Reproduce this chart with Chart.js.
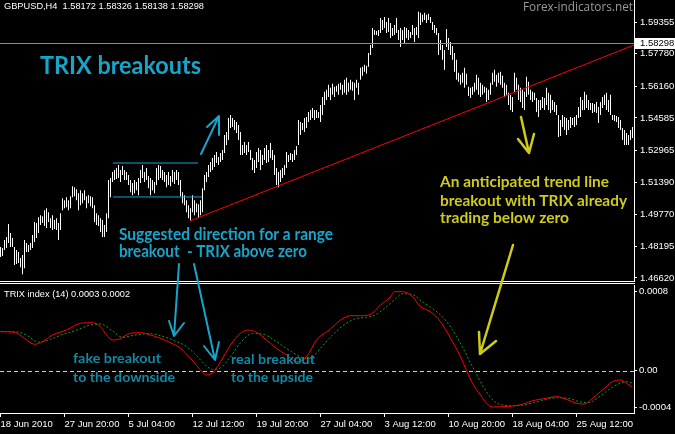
<!DOCTYPE html>
<html>
<head>
<meta charset="utf-8">
<script src="https://cdn.jsdelivr.net/npm/chart.js@4.4.1/dist/chart.umd.min.js"></script>
<style>
html, body { margin: 0; padding: 0; background: #000; }
#wrap { position: relative; width: 675px; height: 434px; overflow: hidden; background: #000; }
#main { position: absolute; left: 0; top: 0; }
#trix { position: absolute; left: 0; top: 284px; }
#over { position: absolute; left: 0; top: 0; pointer-events: none; }
.sep { position: absolute; left: 0; width: 635px; height: 1px; background: #fff; }
</style>
</head>
<body>
<div id="wrap">
  <canvas id="main" width="675" height="281"></canvas>
  <div class="sep" style="top:281px"></div>
  <div class="sep" style="top:283px"></div>
  <canvas id="trix" width="675" height="150"></canvas>
  <canvas id="over" width="675" height="434"></canvas>
</div>
<script>
// GBPUSD H4 bars, high / low per bar (oldest first)
const barHigh = [
  1.4816,1.4811,1.4851,1.4866,1.4931,1.4886,1.4861,1.4816,1.4801,1.4791,
  1.4761,1.4776,1.4851,1.4836,1.4826,1.4836,1.4876,1.4941,1.4936,1.4964,
  1.4974,1.4969,1.4999,1.5009,1.4989,1.4959,1.4974,1.4951,1.4959,1.4936,
  1.4984,1.5059,1.5049,1.5064,1.5049,1.5069,1.5119,1.5114,1.5104,1.5084,
  1.5099,1.5084,1.5099,1.5069,1.5074,1.5069,1.5064,1.5024,1.4984,1.4974,
  1.4959,1.4951,1.4926,1.4984,1.5149,1.5159,1.5189,1.5199,1.5209,1.5224,
  1.5199,1.5219,1.5199,1.5189,1.5174,1.5149,1.5134,1.5149,1.5139,1.5159,
  1.5199,1.5224,1.5189,1.5209,1.5169,1.5159,1.5149,1.5139,1.5209,1.5224,
  1.5219,1.5199,1.5189,1.5174,1.5189,1.5169,1.5199,1.5189,1.5199,1.5189,
  1.5149,1.5089,1.5074,1.5049,1.5024,1.5009,1.5074,1.5049,1.5034,1.5029,
  1.5049,1.5109,1.5174,1.5189,1.5224,1.5239,1.5259,1.5274,1.5289,1.5264,
  1.5284,1.5299,1.5373,1.5388,1.5458,1.5473,1.5458,1.5448,1.5438,1.5423,
  1.5388,1.5324,1.5339,1.5324,1.5339,1.5299,1.5259,1.5249,1.5289,1.5309,
  1.5299,1.5274,1.5309,1.5324,1.5299,1.5334,1.5299,1.5274,1.5209,1.5189,
  1.5199,1.5209,1.5224,1.5289,1.5274,1.5284,1.5279,1.5299,1.5319,1.5448,
  1.5438,1.5433,1.5458,1.5463,1.5488,1.5498,1.5508,1.5498,1.5498,1.5488,
  1.5523,1.5563,1.5588,1.5598,1.5623,1.5608,1.5628,1.5613,1.5618,1.5628,
  1.5633,1.5623,1.5648,1.5658,1.5633,1.5648,1.5638,1.5633,1.5648,1.5633,
  1.5708,1.5713,1.5723,1.5718,1.5781,1.5821,1.5906,1.5896,1.5891,1.5896,
  1.5956,1.5946,1.5961,1.5936,1.5956,1.5931,1.5906,1.5921,1.5956,1.5896,
  1.5906,1.5896,1.5911,1.5906,1.5896,1.5886,1.5921,1.5906,1.5911,1.5986,
  1.5981,1.5971,1.5981,1.5971,1.5976,1.5961,1.5936,1.5921,1.5906,1.5881,
  1.5846,1.5821,1.5796,1.5901,1.5856,1.5836,1.5816,1.5781,1.5748,1.5683,
  1.5673,1.5683,1.5708,1.5678,1.5613,1.5608,1.5613,1.5633,1.5673,1.5658,
  1.5633,1.5623,1.5613,1.5608,1.5598,1.5633,1.5683,1.5698,1.5673,1.5683,
  1.5688,1.5668,1.5633,1.5623,1.5583,1.5573,1.5563,1.5683,1.5658,1.5623,
  1.5608,1.5598,1.5588,1.5663,1.5638,1.5598,1.5588,1.5583,1.5558,1.5548,
  1.5548,1.5563,1.5558,1.5608,1.5583,1.5573,1.5548,1.5538,1.5523,1.5473,
  1.5448,1.5473,1.5463,1.5458,1.5448,1.5463,1.5458,1.5463,1.5473,1.5513,
  1.5563,1.5548,1.5588,1.5573,1.5548,1.5533,1.5533,1.5528,1.5538,1.5513,
  1.5538,1.5563,1.5573,1.5583,1.5548,1.5573,1.5473,1.5473,1.5468,1.5463,
  1.5448,1.5408,1.5398,1.5383,1.5373,1.5398,1.5413
];
const barLow = [
  1.4766,1.4771,1.4801,1.4811,1.4836,1.4816,1.4816,1.4726,1.4731,1.4736,
  1.4716,1.4681,1.4711,1.4791,1.4791,1.4801,1.4811,1.4841,1.4861,1.4886,
  1.4926,1.4936,1.4921,1.4911,1.4941,1.4911,1.4901,1.4906,1.4901,1.4851,
  1.4901,1.4999,1.5009,1.5014,1.4999,1.5009,1.5064,1.5069,1.5049,1.4999,
  1.5024,1.5034,1.5049,1.5009,1.5034,1.5019,1.5009,1.4941,1.4926,1.4921,
  1.4891,1.4866,1.4866,1.4891,1.4959,1.5064,1.5139,1.5149,1.5154,1.5159,
  1.5139,1.5174,1.5149,1.5149,1.5124,1.5089,1.5074,1.5084,1.5099,1.5074,
  1.5134,1.5159,1.5139,1.5149,1.5109,1.5074,1.5099,1.5084,1.5124,1.5149,
  1.5159,1.5149,1.5139,1.5114,1.5124,1.5119,1.5139,1.5129,1.5149,1.5124,
  1.5069,1.5034,1.5024,1.4989,1.4959,1.4946,1.4989,1.4974,1.4989,1.4959,
  1.4974,1.4989,1.5099,1.5139,1.5164,1.5189,1.5199,1.5214,1.5234,1.5224,
  1.5239,1.5249,1.5284,1.5324,1.5349,1.5408,1.5413,1.5398,1.5383,1.5349,
  1.5274,1.5274,1.5284,1.5274,1.5289,1.5249,1.5199,1.5184,1.5209,1.5239,
  1.5199,1.5224,1.5249,1.5234,1.5239,1.5259,1.5249,1.5174,1.5124,1.5114,
  1.5139,1.5159,1.5174,1.5209,1.5239,1.5249,1.5239,1.5249,1.5274,1.5324,
  1.5373,1.5398,1.5388,1.5408,1.5438,1.5448,1.5458,1.5448,1.5458,1.5458,
  1.5438,1.5473,1.5523,1.5548,1.5563,1.5548,1.5573,1.5563,1.5588,1.5573,
  1.5598,1.5573,1.5583,1.5573,1.5588,1.5598,1.5593,1.5548,1.5608,1.5573,
  1.5648,1.5668,1.5688,1.5678,1.5713,1.5771,1.5806,1.5871,1.5871,1.5866,
  1.5881,1.5896,1.5906,1.5881,1.5886,1.5856,1.5866,1.5871,1.5881,1.5846,
  1.5811,1.5846,1.5831,1.5856,1.5846,1.5856,1.5871,1.5836,1.5871,1.5856,
  1.5921,1.5936,1.5946,1.5931,1.5946,1.5931,1.5896,1.5881,1.5871,1.5771,
  1.5796,1.5748,1.5698,1.5811,1.5796,1.5771,1.5748,1.5688,1.5648,1.5638,
  1.5623,1.5633,1.5608,1.5623,1.5568,1.5558,1.5573,1.5588,1.5598,1.5573,
  1.5563,1.5573,1.5583,1.5538,1.5548,1.5573,1.5623,1.5638,1.5613,1.5633,
  1.5623,1.5608,1.5563,1.5573,1.5523,1.5498,1.5488,1.5588,1.5598,1.5548,
  1.5538,1.5508,1.5498,1.5563,1.5573,1.5548,1.5538,1.5548,1.5488,1.5463,
  1.5498,1.5508,1.5498,1.5523,1.5498,1.5483,1.5498,1.5488,1.5473,1.5363,
  1.5368,1.5413,1.5398,1.5373,1.5398,1.5408,1.5423,1.5413,1.5423,1.5458,
  1.5463,1.5498,1.5498,1.5508,1.5498,1.5498,1.5483,1.5488,1.5483,1.5433,
  1.5473,1.5508,1.5523,1.5498,1.5488,1.5473,1.5448,1.5443,1.5438,1.5408,
  1.5398,1.5349,1.5324,1.5324,1.5324,1.5349,1.5358
];
const priceTicks = [1.59355, 1.57780, 1.56160, 1.54585, 1.52965, 1.51390, 1.49770, 1.48195, 1.46620];
const currentPrice = 1.58298;

// chart objects drawn on the price window: [bar, price]
const trendLine = [[94.75, 1.4946], [316.75, 1.5821]];
const rangeTop = [[56.25, 1.5234], [98.75, 1.5234]];
const rangeBottom = [[56.25, 1.5065], [100.75, 1.5065]];

// TRIX(14) and its signal, sampled at bar numbers
const trixBars = [0,7,12,17,21,26,33,40,46,50,53,56,59,65,70,75,80,85,90,95,100,103,106,110,115,120,124,128,133,138,143,148,153,158,165,170,175,180,185,190,195,197,201,206,210,215,220,225,230,233,236,240,243,246,251,256,261,266,271,278,283,288,292,296,301,306,310,313,316];
const trixValues = [3.88e-4,3.82e-4,3.22e-4,2.62e-4,2.88e-4,3.55e-4,4.05e-4,4.72e-4,4.78e-4,4.38e-4,3.55e-4,3.05e-4,3.12e-4,3.72e-4,3.78e-4,3.55e-4,3.22e-4,2.78e-4,2.22e-4,1.22e-4,0.05e-4,-0.45e-4,-0.22e-4,0.88e-4,2.55e-4,3.72e-4,4.05e-4,3.82e-4,3.05e-4,2.22e-4,1.55e-4,0.88e-4,1.38e-4,3.05e-4,4.15e-4,5.05e-4,5.48e-4,5.48e-4,5.62e-4,6.55e-4,7.38e-4,7.88e-4,7.88e-4,7.38e-4,6.38e-4,5.88e-4,4.88e-4,3.22e-4,1.38e-4,0,-1.28e-4,-2.45e-4,-3.28e-4,-3.65e-4,-3.62e-4,-3.55e-4,-3.38e-4,-3.02e-4,-2.85e-4,-2.62e-4,-2.88e-4,-3.28e-4,-3.35e-4,-2.78e-4,-1.95e-4,-1.12e-4,-0.95e-4,-1.28e-4,-1.68e-4];
const signalBars = [0,8,13,19,25,30,37,44,50,56,61,67,74,80,86,92,97,102,106,110,115,120,126,131,136,141,146,151,155,160,166,172,177,182,187,192,197,201,206,211,216,221,226,231,235,237,242,247,252,257,262,267,272,278,284,289,294,299,304,309,313,316];
const signalValues = [3.9e-4,3.87e-4,3.53e-4,2.84e-4,3.1e-4,3.53e-4,3.96e-4,4.49e-4,4.65e-4,3.96e-4,3.32e-4,3.53e-4,3.69e-4,3.48e-4,3.05e-4,2.51e-4,1.71e-4,0.64e-4,0.11e-4,0.27e-4,1.39e-4,2.78e-4,3.69e-4,3.64e-4,3.16e-4,2.46e-4,1.82e-4,1.28e-4,1.23e-4,2.25e-4,3.53e-4,4.6e-4,5.14e-4,5.3e-4,5.51e-4,6.2e-4,7.06e-4,7.67e-4,7.6e-4,6.85e-4,6.2e-4,5.35e-4,4.07e-4,2.35e-4,0.75e-4,0,-1.82e-4,-3.1e-4,-3.48e-4,-3.53e-4,-3.42e-4,-3.21e-4,-2.94e-4,-2.73e-4,-2.78e-4,-3.1e-4,-3.21e-4,-2.68e-4,-1.93e-4,-1.34e-4,-1.12e-4,-1.28e-4];

const dateTickBars = [0, 32, 64, 96, 128, 160, 192, 224, 256, 288];
const dateLabels = ['18 Jun 2010', '27 Jun 20:00', '5 Jul 04:00', '12 Jul 12:00', '19 Jul 20:00',
                    '27 Jul 04:00', '3 Aug 12:00', '10 Aug 20:00', '18 Aug 04:00', '25 Aug 12:00'];

const axisFont = { family: 'Liberation Sans', size: 9.5 };
const cyan = '#17a5ca', teal = '#0f89a5', yellow = '#cfcb1a';

const fitAxis = w => s => { s.width = w; s.paddingTop = 0; s.paddingBottom = 0; };

// trend line, range box and price line on the price window
const mainDecor = {
  id: 'mainDecor',
  afterDatasetsDraw(chart) {
    const {ctx, chartArea, scales: {x, y}} = chart;
    const seg = (pts, color) => {
      ctx.beginPath();
      ctx.moveTo(x.getPixelForValue(pts[0][0]), y.getPixelForValue(pts[0][1]));
      ctx.lineTo(x.getPixelForValue(pts[1][0]), y.getPixelForValue(pts[1][1]));
      ctx.strokeStyle = color;
      ctx.lineWidth = 1;
      ctx.stroke();
    };
    ctx.save();
    const py = Math.round(y.getPixelForValue(currentPrice)) + 0.5;
    ctx.beginPath();
    ctx.moveTo(chartArea.left, py);
    ctx.lineTo(chartArea.right, py);
    ctx.strokeStyle = '#7d8ea4';
    ctx.lineWidth = 1;
    ctx.stroke();
    seg(rangeTop, cyan);
    seg(rangeBottom, cyan);
    seg(trendLine, '#ff0000');
    ctx.restore();
  },
  afterDraw(chart) {
    const {ctx, chartArea, scales: {y}} = chart;
    const py = Math.round(y.getPixelForValue(currentPrice));
    ctx.save();
    ctx.fillStyle = '#fff';
    ctx.fillRect(chartArea.right + 1, py - 5, 40, 11);
    ctx.fillStyle = '#000';
    ctx.font = '9.5px "Liberation Sans"';
    ctx.textBaseline = 'middle';
    ctx.fillText(currentPrice.toFixed(5), chartArea.right + 6, py + 0.5);
    ctx.restore();
  }
};

new Chart(document.getElementById('main'), {
  type: 'bar',
  data: {
    datasets: [{
      data: barHigh.map((h, i) => ({ x: i, y: [barLow[i], h] })),
      backgroundColor: '#fff',
      borderWidth: 0,
      barThickness: 1,
      inflateAmount: 0,
      grouped: false
    }]
  },
  options: {
    responsive: false,
    animation: false,
    events: [],
    layout: { padding: 0 },
    plugins: { legend: { display: false }, tooltip: { enabled: false } },
    scales: {
      x: { type: 'linear', display: false, offset: false, min: -0.25, max: 316.75 },
      y: {
        position: 'right',
        min: 1.4647,
        max: 1.6045,
        afterBuildTicks: s => { s.ticks = priceTicks.map(v => ({ value: v })); },
        afterFit: fitAxis(41),
        ticks: { color: '#fff', font: axisFont, padding: 3, callback: v => v.toFixed(5) },
        grid: { drawOnChartArea: false, color: '#fff', tickLength: 3 },
        border: { color: '#fff' }
      }
    }
  },
  plugins: [mainDecor]
});

// dashed zero level on the TRIX window
const zeroLine = {
  id: 'zeroLine',
  beforeDatasetsDraw(chart) {
    const {ctx, chartArea, scales: {y}} = chart;
    const py = Math.round(y.getPixelForValue(0)) + 0.5;
    ctx.save();
    ctx.setLineDash([4, 3]);
    ctx.beginPath();
    ctx.moveTo(chartArea.left, py);
    ctx.lineTo(chartArea.right, py);
    ctx.strokeStyle = '#d0d0d0';
    ctx.lineWidth = 1;
    ctx.stroke();
    ctx.restore();
  }
};

const trixTicks = [Math.max(...trixValues), 0, Math.min(...trixValues)];

new Chart(document.getElementById('trix'), {
  type: 'line',
  data: {
    datasets: [{
      data: trixBars.map((b, i) => ({ x: b, y: trixValues[i] })),
      borderColor: '#ff0000',
      borderWidth: 1,
      pointRadius: 0,
      cubicInterpolationMode: 'monotone'
    }, {
      data: signalBars.map((b, i) => ({ x: b, y: signalValues[i] })),
      borderColor: '#1f9a1f',
      borderWidth: 1,
      borderDash: [2, 2],
      pointRadius: 0,
      cubicInterpolationMode: 'monotone'
    }]
  },
  options: {
    responsive: false,
    animation: false,
    events: [],
    layout: { padding: { top: 1 } },
    plugins: { legend: { display: false }, tooltip: { enabled: false } },
    scales: {
      x: {
        type: 'linear',
        min: -0.25,
        max: 316.75,
        afterBuildTicks: s => { s.ticks = dateTickBars.map(v => ({ value: v })); },
        afterFit: s => { s.height = 21; s.paddingLeft = 0; s.paddingRight = 0; },
        ticks: { align: 'start', maxRotation: 0, autoSkip: false, padding: 2, color: '#fff', font: axisFont,
                 callback: (v, i) => dateLabels[i] },
        grid: { drawOnChartArea: false, color: '#fff', tickLength: 4 },
        border: { color: '#fff' }
      },
      y: {
        position: 'right',
        min: -0.000425,
        max: 0.000855,
        afterBuildTicks: s => { s.ticks = trixTicks.map(v => ({ value: v })); },
        afterFit: fitAxis(41),
        ticks: { color: '#fff', font: axisFont, padding: 2, callback: v => (v === 0 ? '0.00' : v.toFixed(4)) },
        grid: { drawOnChartArea: false, color: '#fff', tickLength: 3 },
        border: { color: '#fff' }
      }
    }
  },
  plugins: [zeroLine]
});

// notes and arrows drawn over both windows
const ov = document.getElementById('over').getContext('2d');

function fitText(t, x, y, w, font, color) {
  ov.font = font;
  const m = ov.measureText(t).width;
  ov.save();
  ov.translate(x, y);
  ov.scale(w / m, 1);
  ov.fillStyle = color;
  ov.fillText(t, 0, 0);
  ov.restore();
}

function arrow(a, color, width) {
  ov.save();
  ov.strokeStyle = color;
  ov.lineWidth = width;
  ov.lineCap = 'round';
  ov.lineJoin = 'round';
  ov.beginPath();
  ov.moveTo(a.from[0], a.from[1]);
  ov.lineTo(a.to[0], a.to[1]);
  a.arms.forEach(p => { ov.moveTo(a.to[0], a.to[1]); ov.lineTo(p[0], p[1]); });
  ov.stroke();
  ov.restore();
}

const small = '9.5px "Liberation Sans"';
fitText('GBPUSD,H4  1.58172 1.58326 1.58138 1.58298', 4, 9, 200, small, '#fff');
fitText('TRIX index (14) 0.0003 0.0002', 4, 297, 126, small, '#fff');
fitText('Forex-indicators.net', 523, 11, 110, '12.5px "Open Sans"', '#9a9a9a');

const notes = [
  ['TRIX breakouts', 40, 74, 161, 25, cyan],
  ['Suggested direction for a range', 119, 240, 214, 17, cyan],
  ['breakout  - TRIX above zero', 119, 257, 188, 17, cyan],
  ['An anticipated trend line', 440, 187, 169, 15, yellow],
  ['breakout with TRIX already', 440, 206, 187, 15, yellow],
  ['trading below zero', 440, 223, 129, 15, yellow],
  ['fake breakout', 73, 363, 88, 14, teal],
  ['to the downside', 73, 382, 102, 14, teal],
  ['real breakout', 231, 364, 84, 14, teal],
  ['to the upside', 231, 382, 82, 14, teal]
];
notes.forEach(n => fitText(n[0], n[1], n[2], n[3], 'bold ' + n[4] + 'px Lato', n[5]));

arrow({ from: [201, 154], to: [219, 116], arms: [[207, 127], [219, 135]] }, cyan, 2);
arrow({ from: [179, 264], to: [174, 336], arms: [[169, 321], [184, 323]] }, cyan, 2);
arrow({ from: [194, 264], to: [215, 360], arms: [[204, 346], [219, 342]] }, cyan, 2);
arrow({ from: [521, 117], to: [529, 153], arms: [[518, 139], [534, 134]] }, yellow, 2.5);
arrow({ from: [513, 245], to: [480, 354], arms: [[479, 332], [496, 341]] }, yellow, 2.5);
</script>
</body>
</html>
